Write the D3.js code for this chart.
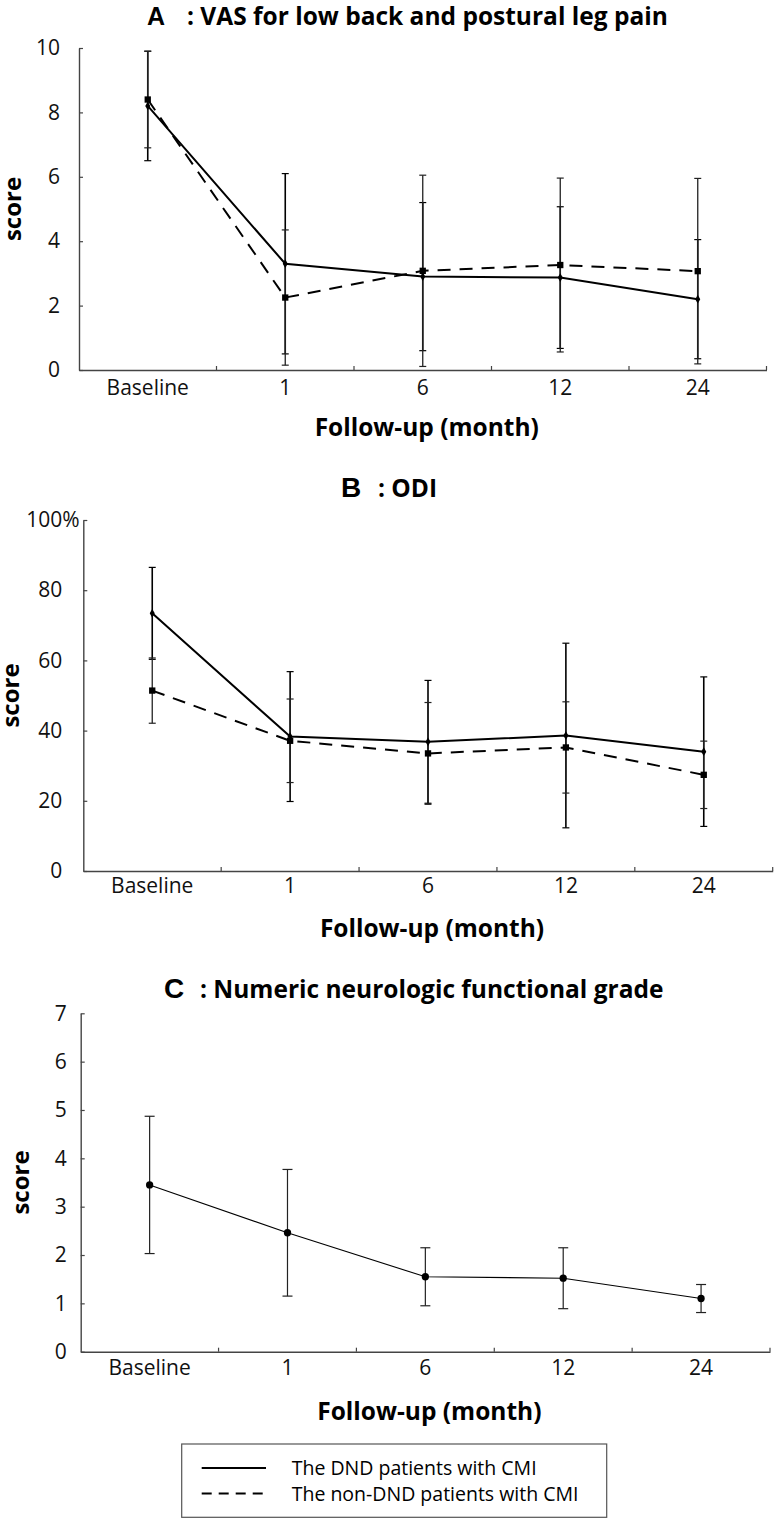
<!DOCTYPE html>
<html>
<head>
<meta charset="utf-8">
<script src="https://cdn.jsdelivr.net/npm/d3@7"></script>
<style>
  body { margin: 0; background: #fff; }
  svg { display: block; }
  .tick text { font-family: "Open Sans", sans-serif; fill: #111; }
</style>
</head>
<body>
<div id="chart"></div>
<script>
// follow-up time points
var categories = ["Baseline", "1", "6", "12", "24"];

// A: VAS
var vasDnd = [8.2, 3.3, 2.9, 2.87, 2.2];
var vasDndSd = [1.7, 2.8, 2.3, 2.2, 1.85];
var vasNon = [8.4, 2.25, 3.08, 3.26, 3.07];
var vasNonSd = [1.5, 2.1, 2.97, 2.7, 2.88];
var vasTicks = [0, 2, 4, 6, 8, 10];

// B: ODI
var odiDnd = [73.4, 38.3, 36.8, 38.6, 34.0];
var odiDndSd = [13.1, 18.5, 17.5, 26.3, 21.3];
var odiNon = [51.4, 37.1, 33.5, 35.2, 27.4];
var odiNonSd = [9.3, 11.9, 14.5, 13.0, 9.6];
var odiTicks = [0, 20, 40, 60, 80, 100];

// C: numeric neurologic functional grade
var nfgDnd = [3.45, 2.46, 1.55, 1.52, 1.10];
var nfgDndSd = [1.42, 1.31, 0.60, 0.63, 0.29];
var nfgTicks = [0, 1, 2, 3, 4, 5, 6, 7];

var legendLabels = ["The DND patients with CMI", "The non-DND patients with CMI"];

var FONT = "Open Sans, sans-serif";

var svg = d3.select("#chart").append("svg")
    .attr("width", 774)
    .attr("height", 1519);

function drawPanel(p) {
  var g = svg.append("g");

  var x = d3.scaleBand().domain(categories).range([p.x0, p.x1]);
  var y = d3.scaleLinear().domain([0, p.max]).range([p.yBot, p.yTop]);

  // title
  g.append("text")
      .attr("x", p.letterX).attr("y", p.titleY)
      .style("font-family", "Liberation Sans, Arial, sans-serif")
      .style("font-weight", "bold").style("font-size", p.letterSize + "px")
      .text(p.letter);
  g.append("text")
      .attr("x", p.restX).attr("y", p.titleY)
      .style("font-family", FONT)
      .style("font-weight", "bold").style("font-size", "24.5px")
      .text(p.title);

  // y axis
  var yAxis = d3.axisLeft(y)
      .tickValues(p.ticks)
      .tickSizeInner(-4).tickSizeOuter(0)
      .tickPadding(p.pad)
      .tickFormat(d3.format("d"));
  var ya = g.append("g")
      .attr("transform", "translate(" + p.x0 + ",0)")
      .call(yAxis);
  ya.select(".domain").attr("stroke", "#444").attr("stroke-width", 1.4);
  ya.selectAll(".tick line").attr("stroke", "#444").attr("stroke-width", 1.2);
  ya.selectAll(".tick text").style("font-size", "21px");
  if (p.percent) {
    ya.selectAll(".tick").filter(function(d) { return d == p.max; })
      .append("text")
        .attr("x", -p.pad).attr("dy", "0.32em")
        .attr("fill", "#111")
        .style("text-anchor", "start")
        .style("font-size", "21px")
        .text("%");
  }

  // x axis
  var xAxis = d3.axisBottom(x).tickSize(0).tickPadding(p.xpad);
  var xa = g.append("g")
      .attr("transform", "translate(0," + p.yBot + ")")
      .call(xAxis);
  xa.select(".domain").attr("stroke", "#444").attr("stroke-width", 1.4);
  xa.selectAll(".tick text").style("font-size", "21px");
  // boundary ticks between categories, pointing up
  xa.selectAll(".bound")
    .data(d3.range(1, categories.length + 1))
    .enter().append("line")
      .attr("x1", function(i) { return p.x0 + i * x.step(); })
      .attr("x2", function(i) { return p.x0 + i * x.step(); })
      .attr("y1", 0).attr("y2", -4)
      .attr("stroke", "#444").attr("stroke-width", 1.2);

  // axis titles
  g.append("text")
      .attr("x", (p.x0 + p.x1) / 2 + 4).attr("y", p.xTitleY)
      .attr("text-anchor", "middle")
      .style("font-family", FONT)
      .style("font-weight", "bold").style("font-size", "24.5px")
      .text("Follow-up (month)");
  g.append("text")
      .attr("transform", "translate(" + p.yTitleX + "," + (p.yTop + p.yBot) / 2 + ") rotate(-90)")
      .attr("text-anchor", "middle")
      .style("font-family", FONT)
      .style("font-weight", "bold").style("font-size", "24px")
      .text("score");

  var cx = function(i) { return x(categories[i]) + x.bandwidth() / 2; };

  // error bars
  p.series.forEach(function(s) {
    var eb = g.append("g").selectAll("g")
      .data(s.values).enter().append("g");
    eb.append("line")
      .attr("x1", function(d, i) { return cx(i); })
      .attr("x2", function(d, i) { return cx(i); })
      .attr("y1", function(d, i) { return y(d - s.sd[i]); })
      .attr("y2", function(d, i) { return y(d + s.sd[i]); })
      .attr("stroke", s.ebColor).attr("stroke-width", s.ebWidth);
    [-1, 1].forEach(function(sign) {
      eb.append("line")
        .attr("x1", function(d, i) { return cx(i) - s.cap; })
        .attr("x2", function(d, i) { return cx(i) + s.cap; })
        .attr("y1", function(d, i) { return y(d + sign * s.sd[i]); })
        .attr("y2", function(d, i) { return y(d + sign * s.sd[i]); })
        .attr("stroke", s.ebColor).attr("stroke-width", 1.2);
    });
  });

  // lines
  p.series.forEach(function(s) {
    var line = d3.line()
      .x(function(d, i) { return cx(i); })
      .y(function(d) { return y(d); });
    g.append("path")
      .datum(s.values)
      .attr("d", line)
      .attr("fill", "none")
      .attr("stroke", "#000")
      .attr("stroke-width", s.width)
      .attr("stroke-dasharray", s.dash || null);
  });

  // markers
  p.series.forEach(function(s) {
    var sym = d3.symbol().type(s.symbol).size(s.size);
    g.append("g").selectAll("path")
      .data(s.values).enter().append("path")
        .attr("transform", function(d, i) { return "translate(" + cx(i) + "," + y(d) + ")"; })
        .attr("d", sym)
        .attr("fill", "#000");
  });
}

drawPanel({
  letter: "A", letterSize: 25, title: ": VAS for low back and postural leg pain",
  letterX: 147, restX: 187, titleY: 25,
  x0: 79, x1: 766.5, yTop: 48, yBot: 370, max: 10, ticks: vasTicks,
  pad: 19, xpad: 10, xTitleY: 436, yTitleX: 21,
  series: [
    { values: vasDnd, sd: vasDndSd, width: 2, symbol: d3.symbolDiamond, size: 22, cap: 3.5, ebColor: "#000", ebWidth: 1.6 },
    { values: vasNon, sd: vasNonSd, width: 2, dash: "13,9", symbol: d3.symbolSquare, size: 40, cap: 3.5, ebColor: "#222", ebWidth: 1.3 }
  ]
});

drawPanel({
  letter: "B", letterSize: 28, title: ": ODI",
  letterX: 341, restX: 378, titleY: 497,
  x0: 83.3, x1: 772.7, yTop: 520, yBot: 871, max: 100, ticks: odiTicks, percent: true,
  pad: 21, xpad: 7, xTitleY: 937, yTitleX: 19,
  series: [
    { values: odiDnd, sd: odiDndSd, width: 2, symbol: d3.symbolDiamond, size: 22, cap: 3.5, ebColor: "#000", ebWidth: 1.6 },
    { values: odiNon, sd: odiNonSd, width: 2, dash: "13,9", symbol: d3.symbolSquare, size: 40, cap: 3.5, ebColor: "#222", ebWidth: 1.3 }
  ]
});

drawPanel({
  letter: "C", letterSize: 28, title: ": Numeric neurologic functional grade",
  letterX: 164, restX: 200, titleY: 998,
  x0: 80.7, x1: 770, yTop: 1013.3, yBot: 1351.7, max: 7, ticks: nfgTicks,
  pad: 14, xpad: 8, xTitleY: 1420, yTitleX: 29,
  series: [
    { values: nfgDnd, sd: nfgDndSd, width: 1.1, symbol: d3.symbolCircle, size: 42, cap: 5, ebColor: "#222", ebWidth: 1.2 }
  ]
});

// legend
var lg = svg.append("g");
lg.append("rect")
    .attr("x", 181.7).attr("y", 1444)
    .attr("width", 425).attr("height", 73.3)
    .attr("fill", "none").attr("stroke", "#555").attr("stroke-width", 1.2);
var rows = lg.selectAll(".row").data(legendLabels).enter().append("g")
    .attr("transform", function(d, i) { return "translate(0," + (1468 + i * 25.5) + ")"; });
rows.append("line")
    .attr("x1", 201.7).attr("x2", 266)
    .attr("stroke", "#000").attr("stroke-width", 2)
    .attr("stroke-dasharray", function(d, i) { return i ? "10,7" : null; });
rows.append("text")
    .attr("x", 291.7).attr("y", 7)
    .style("font-family", FONT)
    .style("font-size", "19.5px")
    .text(function(d) { return d; });
</script>
</body>
</html>
